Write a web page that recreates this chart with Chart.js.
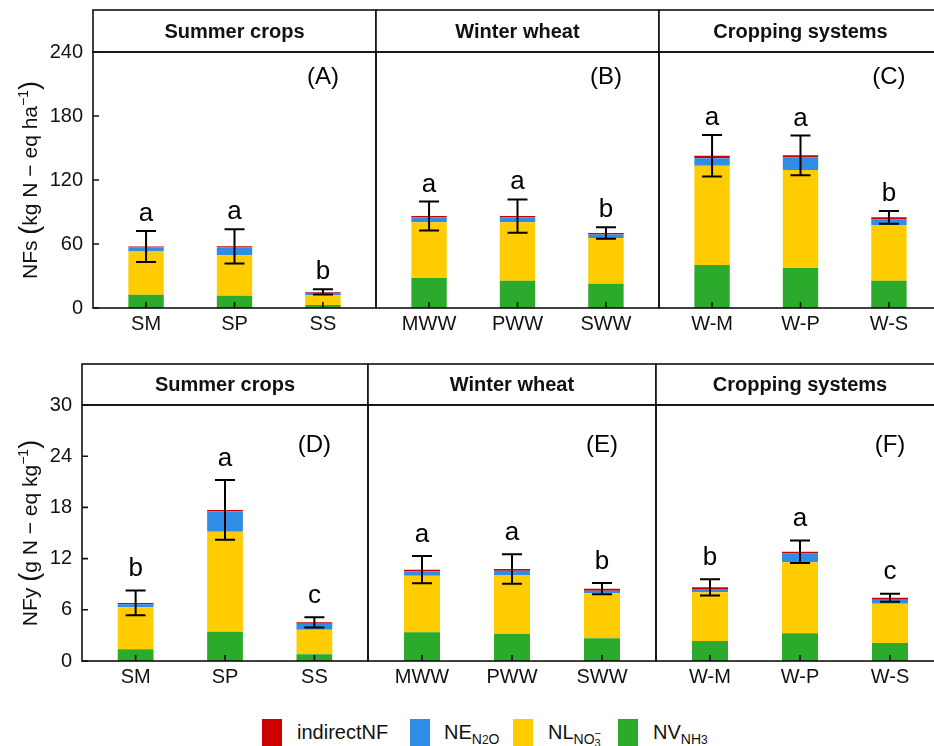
<!DOCTYPE html>
<html>
<head>
<meta charset="utf-8">
<script src="https://cdn.jsdelivr.net/npm/chart.js@4.4.1/dist/chart.umd.min.js"></script>
<style>
  body { margin: 0; width: 934px; height: 746px; overflow: hidden; background: #fff; position: relative;
         font-family: "Liberation Sans", Arial, sans-serif; color: #111; }
  canvas { position: absolute; }
  .key { position: absolute; top: 719px; width: 20px; height: 28px; }
  .lab { position: absolute; top: 719px; font-size: 20px; line-height: 26px; white-space: nowrap; }
  .lab sub { font-size: 14px; vertical-align: -5px; line-height: 0; }
  .ion { display: inline-block; position: relative; width: 8px; }
  .ion .m { position: absolute; left: 0; top: -11px; font-size: 11px; }
  .ion .d { position: absolute; left: 0; top: -1px; font-size: 11px; }
</style>
</head>
<body>
<div id="legend">
  <div class="key" style="left:262px;background:#CC0000"></div>
  <div class="lab" style="left:297px">indirectNF</div>
  <div class="key" style="left:410px;background:#2F8DE6"></div>
  <div class="lab" style="left:444px">NE<sub>N<span style="font-size:12px">2</span>O</sub></div>
  <div class="key" style="left:513px;background:#FFCC00"></div>
  <div class="lab" style="left:548px">NL<sub>NO<span class="ion"><span class="m">−</span><span class="d">3</span></span></sub></div>
  <div class="key" style="left:618px;background:#2CAA2C"></div>
  <div class="lab" style="left:653px">NV<sub>NH<span style="font-size:12px">3</span></sub></div>
</div>
<script>
// categories of each facet
const stripTitles = ["Summer crops", "Winter wheat", "Cropping systems"];
const catsSummer = ["SM", "SP", "SS"];
const catsWheat = ["MWW", "PWW", "SWW"];
const catsSystem = ["W-M", "W-P", "W-S"];
const panelTags = ["(A)", "(B)", "(C)", "(D)", "(E)", "(F)"];

// NFs (kg N-eq ha-1): SM SP SS | MWW PWW SWW | W-M W-P W-S
const nfsNV  = [12.5, 11.5, 2.8, 28.1, 25.6, 22.8, 40.3, 37.5, 25.6];
const nfsNL  = [40.5, 37.9, 9.1, 52.2, 54.7, 42.8, 93.1, 91.9, 52.2];
const nfsNE  = [4.0, 7.6, 2.5, 4.7, 4.7, 3.4, 6.9, 11.9, 5.3];
const nfsInd = [0.7, 0.8, 0.7, 1.2, 1.2, 1.3, 2.4, 1.8, 1.9];
const nfsSE  = [14.5, 16.0, 2.4, 13.6, 15.6, 5.3, 19.4, 18.6, 5.9];
const nfsLetters = ["a", "a", "b", "a", "a", "b", "a", "a", "b"];

// NFy (g N-eq kg-1)
const nfyNV  = [1.37, 3.44, 0.78, 3.36, 3.16, 2.66, 2.34, 3.24, 2.10];
const nfyNL  = [4.92, 11.71, 2.89, 6.64, 6.92, 5.27, 5.71, 8.32, 4.62];
const nfyNE  = [0.35, 2.39, 0.70, 0.51, 0.50, 0.31, 0.39, 1.04, 0.47];
const nfyInd = [0.16, 0.16, 0.16, 0.19, 0.20, 0.23, 0.19, 0.20, 0.23];
const nfySE  = [1.45, 3.50, 0.60, 1.60, 1.72, 0.66, 0.94, 1.33, 0.47];
const nfyLetters = ["b", "a", "c", "a", "a", "b", "b", "a", "c"];

const nfsTicks = [0, 60, 120, 180, 240];
const nfyTicks = [0, 6, 12, 18, 24, 30];

const colors = { ind: "#CC0000", ne: "#2F8DE6", nl: "#FFCC00", nv: "#2CAA2C" };
const FONT = '"Liberation Sans", Arial, sans-serif';

const rows = [
  { nv: nfsNV, nl: nfsNL, ne: nfsNE, ind: nfsInd, se: nfsSE, letters: nfsLetters, ticks: nfsTicks,
    canvasTop: 0, stripTop: 10, top: 52, bottom: 308, edges: [93, 376, 659, 942],
    letterGap: 10, tagY: 216,
    title: [["NFs ", 21, 0], ["(", 27, 1], ["kg N \u2212 eq ha", 21, 0], ["\u22121", 14, -9], [")", 27, 1]] },
  { nv: nfyNV, nl: nfyNL, ne: nfyNE, ind: nfyInd, se: nfySE, letters: nfyLetters, ticks: nfyTicks,
    canvasTop: 350, stripTop: 364, top: 405, bottom: 661, edges: [82, 368, 656, 944],
    letterGap: 14.5, tagY: 25.3,
    title: [["NFy ", 21, 0], ["(", 27, 1], ["g N \u2212 eq kg", 21, 0], ["\u22121", 14, -9], [")", 27, 1]] }
];
const cats = [catsSummer, catsWheat, catsSystem];

const info = {};

const decor = {
  id: "decor",
  afterDatasetsDraw(chart) {
    const p = info[chart.canvas.id];
    const ctx = chart.ctx, xs = chart.scales.x, ys = chart.scales.y;
    ctx.save();
    ctx.strokeStyle = "#000";
    ctx.fillStyle = "#000";
    ctx.lineWidth = 2;
    p.totals.forEach((t, i) => {
      const x = xs.getPixelForValue(i + 1);
      const yt = ys.getPixelForValue(t + p.se[i]);
      const yb = ys.getPixelForValue(t - p.se[i]);
      ctx.beginPath();
      ctx.moveTo(x, yt); ctx.lineTo(x, yb);
      ctx.moveTo(x - 10, yt); ctx.lineTo(x + 10, yt);
      ctx.moveTo(x - 10, yb); ctx.lineTo(x + 10, yb);
      ctx.stroke();
      ctx.font = "26px " + FONT;
      ctx.textAlign = "center";
      ctx.textBaseline = "alphabetic";
      ctx.fillText(p.letters[i], x, yt - p.letterGap);
    });
    ctx.font = "24px " + FONT;
    ctx.textBaseline = "middle";
    ctx.fillText(p.tag, xs.getPixelForValue(3), ys.getPixelForValue(p.tagY));
    ctx.restore();
  },
  afterDraw(chart) {
    const p = info[chart.canvas.id];
    const ctx = chart.ctx, a = chart.chartArea, xs = chart.scales.x, ys = chart.scales.y;
    ctx.save();
    ctx.strokeStyle = "#111";
    ctx.lineWidth = 1.6;
    // inward tick marks
    ctx.beginPath();
    [1, 2, 3].forEach(v => {
      const x = xs.getPixelForValue(v);
      ctx.moveTo(x, a.bottom); ctx.lineTo(x, a.bottom - 6);
    });
    if (p.axis) {
      p.ticks.forEach(v => {
        const y = ys.getPixelForValue(v);
        ctx.moveTo(a.left, y); ctx.lineTo(a.left + 6, y);
      });
    }
    ctx.stroke();
    // panel frame and strip
    ctx.fillStyle = "#fff";
    ctx.fillRect(a.left, p.stripTop, a.right - a.left, a.top - p.stripTop);
    ctx.strokeRect(a.left, a.top, a.right - a.left, a.bottom - a.top);
    ctx.strokeRect(a.left, p.stripTop, a.right - a.left, a.top - p.stripTop);
    ctx.fillStyle = "#111";
    ctx.font = "bold 20px " + FONT;
    ctx.textAlign = "center";
    ctx.textBaseline = "middle";
    ctx.fillText(p.strip, (a.left + a.right) / 2, (p.stripTop + a.top) / 2 + 1);
    // y axis title with superscript
    if (p.axis) {
      ctx.translate(37, (a.top + a.bottom) / 2);
      ctx.rotate(-Math.PI / 2);
      ctx.textAlign = "left";
      ctx.textBaseline = "alphabetic";
      let w = 0;
      p.title.forEach(s => { ctx.font = s[1] + "px " + FONT; w += ctx.measureText(s[0]).width; });
      let x = -w / 2;
      p.title.forEach(s => {
        ctx.font = s[1] + "px " + FONT;
        ctx.fillText(s[0], x, s[2]);
        x += ctx.measureText(s[0]).width;
      });
    }
    ctx.restore();
  }
};

rows.forEach((row, r) => {
  for (let j = 0; j < 3; j++) {
    const idx = r * 3 + j;
    const from = j * 3, to = j * 3 + 3;
    const left = j === 0 ? 0 : row.edges[j] - 3;
    const width = row.edges[j + 1] + 3 - left;
    const height = row.bottom + 32 - row.canvasTop;
    const cv = document.createElement("canvas");
    cv.id = "c" + idx;
    cv.width = width; cv.height = height;
    cv.style.left = left + "px"; cv.style.top = row.canvasTop + "px";
    document.body.appendChild(cv);

    const nv = row.nv.slice(from, to), nl = row.nl.slice(from, to);
    const ne = row.ne.slice(from, to), ind = row.ind.slice(from, to);
    info[cv.id] = {
      axis: j === 0, ticks: row.ticks, strip: stripTitles[j], stripTop: row.stripTop - row.canvasTop,
      tag: panelTags[idx], tagY: row.tagY, letterGap: row.letterGap, title: row.title,
      se: row.se.slice(from, to), letters: row.letters.slice(from, to),
      totals: nv.map((v, i) => v + nl[i] + ne[i] + ind[i])
    };
    const pts = arr => arr.map((v, i) => ({ x: i + 1, y: v }));
    const catLabels = cats[j];
    const yMax = row.ticks[row.ticks.length - 1];

    new Chart(cv.getContext("2d"), {
      type: "bar",
      data: {
        datasets: [
          { label: "NV", data: pts(nv), backgroundColor: colors.nv },
          { label: "NL", data: pts(nl), backgroundColor: colors.nl },
          { label: "NE", data: pts(ne), backgroundColor: colors.ne },
          { label: "indirectNF", data: pts(ind), backgroundColor: colors.ind }
        ]
      },
      options: {
        responsive: false,
        animation: false,
        categoryPercentage: 1,
        barPercentage: 0.4,
        borderSkipped: false,
        layout: { padding: { top: row.top - row.canvasTop, left: j === 0 ? 0 : 3, right: 3, bottom: 0 } },
        plugins: { legend: { display: false }, tooltip: { enabled: false } },
        scales: {
          x: {
            type: "linear", min: 0.4, max: 3.6, offset: false, stacked: true,
            grid: { display: false, drawTicks: false, offset: false }, border: { display: false },
            afterBuildTicks: s => { s.ticks = [1, 2, 3].map(v => ({ value: v })); },
            afterFit: s => { s.height = 32; },
            ticks: { color: "#111", padding: 4, font: { size: 20, family: FONT },
                     callback: v => catLabels[v - 1] }
          },
          y: {
            display: j === 0, min: 0, max: yMax, stacked: true,
            grid: { display: false, drawTicks: false }, border: { display: false },
            afterBuildTicks: s => { s.ticks = row.ticks.map(v => ({ value: v })); },
            afterFit: s => { s.width = j === 0 ? row.edges[0] : 0; },
            ticks: { color: "#111", padding: 10, font: { size: 20, family: FONT } }
          }
        }
      },
      plugins: [decor]
    });
  }
});
</script>
</body>
</html>
